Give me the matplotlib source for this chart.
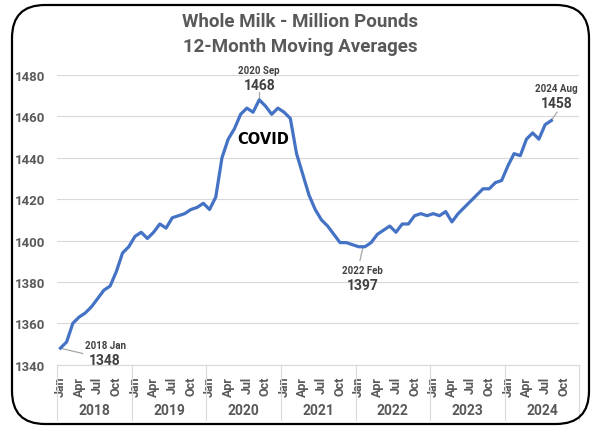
import numpy as np
import matplotlib
matplotlib.use("Agg")
import matplotlib.pyplot as plt
from matplotlib.patches import FancyBboxPatch
import matplotlib.transforms as mtransforms

plt.rcParams['font.family'] = ['Roboto', 'DejaVu Sans']

# 12-month moving average, Jan 2018 .. Aug 2024 (million pounds)
years = ['2018', '2019', '2020', '2021', '2022', '2023', '2024']
month_labels = ['Jan', 'Apr', 'Jul', 'Oct']
values = [
    1348, 1351, 1360, 1363, 1365, 1368, 1372, 1376, 1378, 1385, 1394, 1397,   # 2018
    1402, 1404, 1401, 1404, 1408, 1406, 1411, 1412, 1413, 1415, 1416, 1418,   # 2019
    1415, 1421, 1440, 1449, 1454, 1461, 1464, 1462, 1468, 1465, 1461, 1464,   # 2020
    1462, 1459, 1442, 1432, 1422, 1415, 1410, 1407, 1403, 1399, 1399, 1398,   # 2021
    1397, 1397, 1399, 1403, 1405, 1407, 1404, 1408, 1408, 1412, 1413, 1412,   # 2022
    1413, 1412, 1414, 1409, 1413, 1416, 1419, 1422, 1425, 1425, 1428, 1429,   # 2023
    1436, 1442, 1441, 1449, 1452, 1449, 1456, 1458,                           # 2024
]
# labelled points: top label, value label, x of text, y of value text
callout_labels = ['2018 Jan', '2020 Sep', '2022 Feb', '2024 Aug']
callout_values = ['1348', '1468', '1397', '1458']
callout_x = [7.2, 32.0, 48.6, 79.8]
callout_y = [1342.2, 1475.2, 1378.4, 1466.7]
# leader lines (start point, end point)
leaders = [((0, 1348), (3.6, 1345.4)), ((32, 1468), (32, 1471.6)),
           ((48.7, 1397), (48.2, 1390.4)), ((79, 1458), (79.9, 1462))]

gray = '#595959'
fig = plt.figure(figsize=(6.0, 4.31), dpi=100)
ax = fig.add_axes([0.0955, 0.1515, 0.87, 0.6722])

x = np.arange(len(values))
ax.plot(x, values, color='#4472C4', lw=2.3, solid_joinstyle='round', zorder=3)

ax.set_xlim(-0.5, 12 * len(years) - 0.5)
ax.set_ylim(1340, 1480)
ax.set_yticks(np.arange(1340, 1481, 20))
ax.grid(axis='y', color='#d9d9d9', lw=0.8)
ax.set_axisbelow(True)
for s in ['left', 'right', 'top']:
    ax.spines[s].set_visible(False)
ax.spines['bottom'].set_color('#d9d9d9')
ax.tick_params(axis='y', length=0, pad=9, labelsize=9.5, labelcolor=gray)
for t in ax.get_yticklabels():
    t.set_fontweight('bold')

ticks = [12 * i + m for i in range(len(years)) for m in (0, 3, 6, 9)]
ax.set_xticks(ticks)
ax.set_xticklabels(month_labels * len(years), rotation=90, fontsize=9,
                   fontweight='bold', color=gray)
ax.tick_params(axis='x', length=0, pad=8)

trans = mtransforms.blended_transform_factory(ax.transData, ax.transAxes)
for i, yr in enumerate(years):
    ax.plot([12 * i - 0.5] * 2, [0, -0.19], transform=trans, color='#d9d9d9',
            lw=0.8, clip_on=False)
    ax.text(12 * i + 5.5, -0.156, yr, transform=trans, ha='center', va='center',
            fontsize=10, fontweight='bold', color=gray)
ax.plot([12 * len(years) - 0.5] * 2, [0, -0.19], transform=trans,
        color='#d9d9d9', lw=0.8, clip_on=False)

for lab, val, tx, ty in zip(callout_labels, callout_values, callout_x, callout_y):
    ax.text(tx, ty + 7.2, lab, ha='center', va='center', fontsize=7,
            fontweight='bold', color='#404040')
    ax.text(tx, ty, val, ha='center', va='center', fontsize=10,
            fontweight='bold', color='#404040')

for (x0, y0), (x1, y1) in leaders:
    ax.plot([x0, x1], [y0, y1], color='#a6a6a6', lw=0.9, zorder=2)

ax.text(32.7, 1449.5, 'COVID', ha='center', va='center', fontsize=10.5,
        fontweight='bold', color='black', family=['DejaVu Sans'])

fig.text(0.5, 0.949, 'Whole Milk - Million Pounds', ha='center', va='center',
         fontsize=13.5, fontweight='bold', color=gray)
fig.text(0.5, 0.891, '12-Month Moving Averages', ha='center', va='center',
         fontsize=13.5, fontweight='bold', color=gray)

frame = FancyBboxPatch((12 / 600, 6 / 431), 577 / 600, 419 / 431,
                       boxstyle='round,pad=0,rounding_size=0.055',
                       transform=fig.transFigure, fill=False, ec='black', lw=1.6,
                       mutation_aspect=600 / 431)
fig.patches.append(frame)

fig.savefig('out.png', dpi=100)
